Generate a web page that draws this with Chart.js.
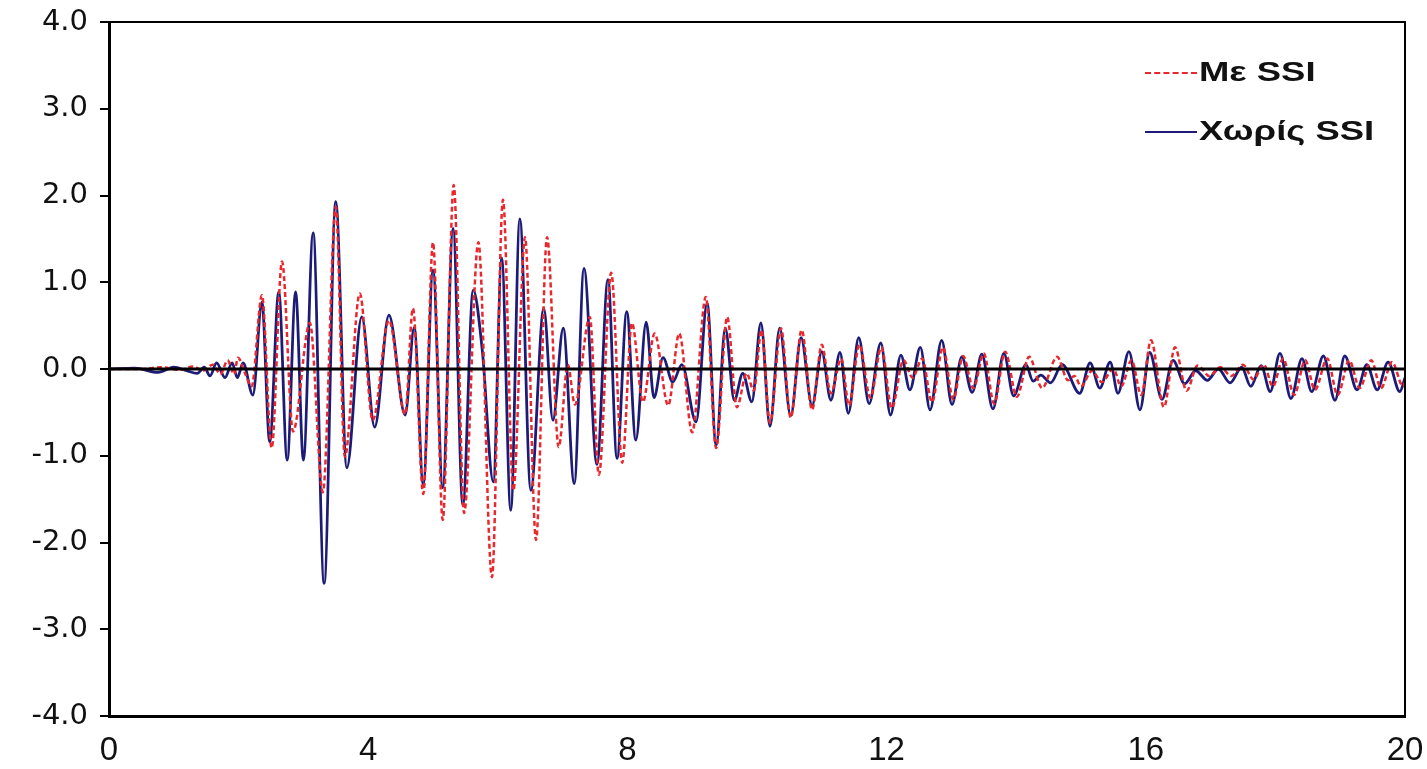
<!DOCTYPE html>
<html>
<head>
<meta charset="utf-8">
<title>SSI</title>
<script src="https://cdn.jsdelivr.net/npm/chart.js@4.4.1/dist/chart.umd.min.js"></script>
<style>
  body { margin: 0; background: #fff; }
  #wrap { position: relative; width: 1427px; height: 769px; }
  #legend { position: absolute; left: 1145px; top: 43px; font: bold 27px 'Liberation Sans', Arial, sans-serif; color: #111; }
  .row { display: flex; align-items: center; height: 59px; }
  .swatch { width: 52px; height: 0; margin-right: 2px; }
  .lbl { transform: scaleX(1.35); transform-origin: left center; white-space: nowrap; }
</style>
</head>
<body>
<div id="wrap">
  <canvas id="myChart"></canvas>
  <div id="legend">
    <div class="row"><span class="swatch" style="border-top: 2px dashed #e8282c;"></span><span class="lbl">Με SSI</span></div>
    <div class="row"><span class="swatch" style="border-top: 2px solid #1c1c78;"></span><span class="lbl">Χωρίς SSI</span></div>
  </div>
</div>
<script>
'use strict';

let seriesNames = ['Με SSI', 'Χωρίς SSI'];
let xTicks = [0, 4, 8, 12, 16, 20];
let yTicks = [-4, -3, -2, -1, 0, 1, 2, 3, 4];

// Με SSI (red dashed), peaks and troughs
let ssiTime = [0, 0.5, 0.8, 1.1, 1.3, 1.45, 1.6, 1.72, 1.83, 1.93, 1.99, 2.1, 2.2, 2.36, 2.51, 2.67, 2.84, 3.1, 3.3, 3.5,
  3.64, 3.87, 4.07, 4.32, 4.57, 4.69, 4.85, 5.0, 5.15, 5.32, 5.48, 5.7, 5.91, 6.08, 6.24, 6.42, 6.59, 6.76, 6.94, 7.08,
  7.19, 7.42, 7.56, 7.75, 7.92, 8.07, 8.24, 8.42, 8.63, 8.8, 9.0, 9.21, 9.37, 9.54, 9.69, 9.84, 9.95, 10.07, 10.2, 10.37,
  10.52, 10.69, 10.85, 11.0, 11.14, 11.3, 11.42, 11.58, 11.75, 11.92, 12.08, 12.26, 12.4, 12.55, 12.7, 12.87, 13.03, 13.18, 13.34, 13.5,
  13.66, 13.83, 14.01, 14.2, 14.4, 14.63, 14.8, 14.9, 15.0, 15.17, 15.32, 15.5, 15.62, 15.78, 15.93, 16.08, 16.28, 16.45, 16.63, 16.8,
  16.98, 17.15, 17.32, 17.5, 17.66, 17.82, 17.96, 18.12, 18.29, 18.46, 18.61, 18.8, 18.96, 19.14, 19.3, 19.48, 19.63, 19.8, 19.97, 20];
let ssiValue = [0, 0, 0.02, -0.01, 0.03, -0.02, 0.05, -0.06, 0.1, -0.06, 0.13, -0.05, -0.2, 0.85, -0.91, 1.24, -0.72, 0.53, -1.42, 1.87,
  -1.01, 0.87, -0.59, 0.56, -0.52, 0.7, -1.44, 1.46, -1.74, 2.12, -1.66, 1.46, -2.4, 1.95, -1.4, 1.52, -1.97, 1.52, -0.9, 0.05,
  -0.41, 0.6, -1.22, 1.11, -1.08, 0.53, -0.38, 0.41, -0.42, 0.41, -0.73, 0.83, -0.91, 0.6, -0.44, -0.05, -0.25, 0.45, -0.62, 0.47,
  -0.56, 0.45, -0.47, 0.28, -0.28, 0.12, -0.42, 0.28, -0.33, 0.25, -0.45, 0.1, -0.1, 0.12, -0.38, 0.25, -0.35, 0.15, -0.22, 0.18,
  -0.4, 0.2, -0.32, 0.14, -0.22, 0.14, -0.13, -0.08, -0.2, -0.02, -0.15, 0, -0.2, 0.1, -0.3, 0.33, -0.44, 0.25, -0.25, 0.04,
  -0.08, 0.02, -0.08, 0.05, -0.12, 0.05, -0.2, 0.12, -0.3, 0.1, -0.24, 0.12, -0.3, 0.1, -0.22, 0.1, -0.22, 0.08, -0.2, -0.15];

// Χωρίς SSI (navy solid)
let noSsiTime = [0, 0.4, 0.76, 1.0, 1.2, 1.36, 1.47, 1.56, 1.66, 1.79, 1.9, 1.98, 2.07, 2.22, 2.36, 2.48, 2.62, 2.75, 2.88, 3.0,
  3.15, 3.32, 3.5, 3.67, 3.9, 4.1, 4.32, 4.57, 4.71, 4.85, 5.0, 5.15, 5.31, 5.46, 5.62, 5.76, 5.93, 6.06, 6.2, 6.34,
  6.51, 6.71, 6.85, 7.01, 7.18, 7.33, 7.53, 7.7, 7.84, 7.99, 8.13, 8.29, 8.41, 8.55, 8.7, 8.84, 9.06, 9.23, 9.37, 9.51,
  9.65, 9.78, 9.92, 10.06, 10.2, 10.35, 10.52, 10.68, 10.85, 11.0, 11.14, 11.28, 11.41, 11.57, 11.73, 11.91, 12.06, 12.22, 12.36, 12.52,
  12.67, 12.85, 13.01, 13.16, 13.32, 13.47, 13.64, 13.81, 13.96, 14.15, 14.26, 14.38, 14.53, 14.71, 14.98, 15.14, 15.29, 15.45, 15.57, 15.74,
  15.91, 16.06, 16.25, 16.42, 16.6, 16.77, 16.95, 17.12, 17.3, 17.48, 17.62, 17.78, 17.92, 18.07, 18.24, 18.41, 18.56, 18.74, 18.92, 19.07,
  19.26, 19.41, 19.57, 19.74, 19.92, 20];
let noSsiValue = [0, 0.01, -0.04, 0.02, -0.02, -0.05, 0.02, -0.08, 0.07, -0.1, 0.07, -0.1, 0.07, -0.3, 0.77, -0.84, 0.89, -1.05, 0.89, -1.05,
  1.57, -2.47, 1.93, -1.14, 0.6, -0.67, 0.62, -0.53, 0.48, -1.33, 1.14, -1.37, 1.62, -1.57, 0.91, 0.22, -1.3, 1.28, -1.63, 1.73,
  -1.4, 0.7, -0.59, 0.47, -1.32, 1.16, -1.1, 1.03, -1.03, 0.66, -0.82, 0.54, -0.33, 0.13, -0.15, 0.05, -0.61, 0.76, -0.88, 0.47,
  -0.36, -0.05, -0.38, 0.53, -0.66, 0.47, -0.54, 0.36, -0.42, 0.2, -0.36, 0.19, -0.51, 0.36, -0.4, 0.3, -0.53, 0.16, -0.24, 0.25,
  -0.47, 0.33, -0.41, 0.14, -0.27, 0.17, -0.46, 0.18, -0.31, 0.05, -0.14, -0.07, -0.16, 0.05, -0.28, 0.07, -0.22, 0.08, -0.28, 0.2,
  -0.47, 0.19, -0.35, 0.1, -0.17, -0.02, -0.13, 0, -0.16, 0.02, -0.2, 0.04, -0.26, 0.18, -0.34, 0.12, -0.26, 0.15, -0.36, 0.15,
  -0.24, 0.05, -0.24, 0.08, -0.26, -0.1];

function toPoints(times, values) {
    let pts = [];
    for (let i = 0; i < times.length; i++) {
        pts.push({ x: times[i], y: values[i] });
    }
    return pts;
}

// labels may hang outside the plot, the layout padding alone sets the plot box
function noOverflow(s) {
    s.paddingTop = 0;
    s.paddingBottom = 0;
    s.paddingLeft = 0;
    s.paddingRight = 0;
}

// zero line on top of the curves, plus the box round the plot
let framePlugin = {
    id: 'frame',
    afterDatasetsDraw(chart) {
        let ctx = chart.ctx;
        let area = chart.chartArea;
        let y0 = chart.scales.y.getPixelForValue(0);
        ctx.save();
        ctx.strokeStyle = '#000';
        ctx.lineWidth = 3;
        ctx.beginPath();
        ctx.moveTo(area.left, y0);
        ctx.lineTo(area.right, y0);
        ctx.stroke();
        ctx.lineWidth = 2;
        ctx.beginPath();
        ctx.moveTo(area.left, area.top);
        ctx.lineTo(area.right, area.top);
        ctx.lineTo(area.right, area.bottom);
        ctx.stroke();
        ctx.restore();
    }
};

function chartRender() {
    let ctx = document.getElementById('myChart').getContext('2d');
    new Chart(ctx, {
        type: 'line',
        data: {
            datasets: [{
                label: seriesNames[0],
                data: toPoints(ssiTime, ssiValue),
                borderColor: '#e8282c',
                borderWidth: 2.5,
                borderDash: [5, 3],
                order: 0
            }, {
                label: seriesNames[1],
                data: toPoints(noSsiTime, noSsiValue),
                borderColor: '#1c1c78',
                borderWidth: 2.8,
                order: 1
            }]
        },
        options: {
            responsive: true,
            maintainAspectRatio: false,
            animation: false,
            parsing: false,
            elements: {
                point: { radius: 0 },
                line: { cubicInterpolationMode: 'monotone', fill: false }
            },
            layout: { padding: { top: 22, right: 22, left: 0, bottom: 0 } },
            plugins: { legend: { display: false }, tooltip: { enabled: false } },
            scales: {
                x: {
                    type: 'linear',
                    min: 0,
                    max: 20,
                    afterBuildTicks: s => { s.ticks = xTicks.map(v => ({ value: v })); },
                    afterFit: s => { s.height = 53; noOverflow(s); },
                    grid: { display: false },
                    border: { display: true, color: '#000', width: 3 },
                    ticks: {
                        color: '#111',
                        padding: 7,
                        maxRotation: 0,
                        font: { family: "'Liberation Sans Narrow', 'Liberation Sans', sans-serif", size: 33 }
                    }
                },
                y: {
                    type: 'linear',
                    min: -4,
                    max: 4,
                    afterBuildTicks: s => { s.ticks = yTicks.map(v => ({ value: v })); },
                    afterFit: s => { s.width = 109; noOverflow(s); },
                    grid: { drawOnChartArea: false, drawTicks: true, tickLength: 9, color: '#000', lineWidth: 2 },
                    border: { display: true, color: '#000', width: 3 },
                    ticks: {
                        color: '#111',
                        padding: 12,
                        callback: v => v.toFixed(1),
                        font: { family: "'DejaVu Sans', sans-serif", size: 29 }
                    }
                }
            }
        },
        plugins: [framePlugin]
    });
}

chartRender();
</script>
</body>
</html>
